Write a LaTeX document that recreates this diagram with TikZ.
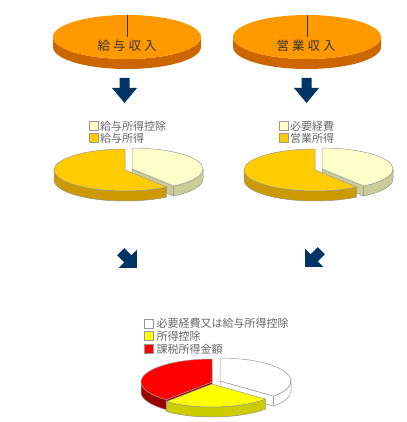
\documentclass[tikz,border=0pt]{standalone}
\usepackage{fontspec}
\newfontfamily\jpfont{Noto Sans CJK JP}
\definecolor{navyarr}{HTML}{003366}
\definecolor{orgtop}{HTML}{FF9900}
\definecolor{orgside}{HTML}{CC6600}
\definecolor{ylwtop}{HTML}{FFCC00}
\definecolor{ylwside}{HTML}{CC9900}
\definecolor{lytop}{HTML}{FFFFCC}
\definecolor{lyside}{HTML}{CCCC99}
\definecolor{redtop}{HTML}{FF0000}
\definecolor{redside}{HTML}{990000}
\definecolor{yeltop}{HTML}{FFFF00}
\definecolor{yelside}{HTML}{CCCC00}
\definecolor{pieline}{HTML}{999999}
\definecolor{lgtext}{HTML}{666666}
\definecolor{disktext}{HTML}{333333}
\def\pieRX{71}\def\pieRY{21}\def\pieH{10}
\newcommand\pieSec[2]{(0,0) -- ({\pieRX*cos(#1)},{\pieRY*sin(#1)}) arc[start angle=#1,end angle=#2,x radius=\pieRX,y radius=\pieRY] -- cycle}
\newcommand\pieBot[2]{(0,-\pieH) -- ({\pieRX*cos(#1)},{\pieRY*sin(#1)-\pieH}) arc[start angle=#1,end angle=#2,x radius=\pieRX,y radius=\pieRY] -- cycle}
\newcommand\pieSide[2]{({\pieRX*cos(#1)},{\pieRY*sin(#1)}) arc[start angle=#1,end angle=#2,x radius=\pieRX,y radius=\pieRY] -- ++(0,-\pieH) arc[start angle=#2,end angle=#1,x radius=\pieRX,y radius=\pieRY] -- cycle}
\newcommand\pieWall[1]{(0,0) -- ({\pieRX*cos(#1)},{\pieRY*sin(#1)}) -- ++(0,-\pieH) -- (0,-\pieH) -- cycle}
\tikzset{
  pieedge/.style={draw=pieline, line width=0.5pt},
  downarr/.pic={\fill[navyarr] (-5,0) -- (5,0) -- (5,10) -- (12.5,10) -- (0,25) -- (-12.5,10) -- (-5,10) -- cycle;},
  diagarr/.pic={\fill[navyarr] (-5,0) -- (5,0) -- (5,10) -- (13,10) -- (0,23) -- (-13,10) -- (-5,10) -- cycle;},
  lgsq/.style={draw=pieline, line width=0.5pt, minimum size=9pt, inner sep=0pt, outer sep=0pt},
  lgtx/.style={anchor=west, inner sep=0pt, text=lgtext, font=\jpfont\fontsize{11}{11}\selectfont},
  disktx/.style={inner sep=0pt, text=disktext, font=\jpfont\fontsize{12.5}{12.5}\selectfont}
}
\begin{document}
\begin{tikzpicture}[x=1pt, y=-1pt]
\useasboundingbox (0,0) rectangle (406,422);
\fill[white] (0,0) rectangle (406,422);

% top disks
\def\pieRX{74}\def\pieRY{22}\def\pieH{10}
\begin{scope}[shift={(127,37)}, y=1pt]
  \fill[orgside] \pieSide{180}{360};
  \fill[orgtop] (0,0) ellipse[x radius=\pieRX, y radius=\pieRY];
  \draw[disktext, line width=0.5pt] (0,0) -- (0,\pieRY);
\end{scope}
\begin{scope}[shift={(307,37)}, y=1pt]
  \fill[orgside] \pieSide{180}{360};
  \fill[orgtop] (0,0) ellipse[x radius=\pieRX, y radius=\pieRY];
  \draw[disktext, line width=0.5pt] (0,0) -- (0,\pieRY);
\end{scope}
\node[disktx] (d1) at (127,46) {給\kern3pt与\kern3pt収\kern3pt入};
\node[disktx] (d2) at (306,46) {営\kern3pt業\kern3pt収\kern3pt入};

% down arrows
\pic at (124.5,78) {downarr};
\pic at (306.5,78) {downarr};

% middle left pie
\def\pieRX{71}\def\pieRY{21}\def\pieH{10}
\begin{scope}[shift={(132,169)}, y=1pt]
  \fill[lyside] \pieBot{-54}{90};
  \filldraw[fill=lyside, pieedge] \pieWall{-54};
  \filldraw[fill=lyside, pieedge] \pieSide{-54}{0};
  \filldraw[fill=lytop, pieedge] \pieSec{-54}{90};
\end{scope}
\begin{scope}[shift={(125,170)}, y=1pt]
  \fill[ylwside] \pieBot{90}{306};
  \filldraw[fill=ylwside, pieedge] \pieSide{180}{306};
  \filldraw[fill=ylwtop, pieedge] \pieSec{90}{306};
\end{scope}
% middle right pie
\begin{scope}[shift={(322,169)}, y=1pt]
  \fill[lyside] \pieBot{-54}{90};
  \filldraw[fill=lyside, pieedge] \pieWall{-54};
  \filldraw[fill=lyside, pieedge] \pieSide{-54}{0};
  \filldraw[fill=lytop, pieedge] \pieSec{-54}{90};
\end{scope}
\begin{scope}[shift={(315,170)}, y=1pt]
  \fill[ylwside] \pieBot{90}{306};
  \filldraw[fill=ylwside, pieedge] \pieSide{180}{306};
  \filldraw[fill=ylwtop, pieedge] \pieSec{90}{306};
\end{scope}

% middle legends
\node[lgsq, fill=lytop] (la1) at (93.8,126) {};
\node[lgsq, fill=ylwtop] (la2) at (93.8,138) {};
\node[lgtx] (ta1) at (100,126) {給与所得控除};
\node[lgtx] (ta2) at (100,138) {給与所得};
\node[lgsq, fill=lytop] (lb1) at (283.8,126) {};
\node[lgsq, fill=ylwtop] (lb2) at (283.8,138) {};
\node[lgtx] (tb1) at (290,126) {必要経費};
\node[lgtx] (tb2) at (290,138) {営業所得};

% diagonal arrows
\pic[rotate=45] at (120.7,251.7) {diagarr};
\pic[rotate=-45] at (321.3,250.7) {diagarr};

% bottom legend
\node[lgsq, fill=white] (lc1) at (148.7,323.5) {};
\node[lgsq, fill=yeltop] (lc2) at (148.7,336) {};
\node[lgsq, fill=redtop] (lc3) at (148.7,349) {};
\node[lgtx] (tc1) at (156.5,323.5) {必要経費又は給与所得控除};
\node[lgtx] (tc2) at (156.5,336) {所得控除};
\node[lgtx] (tc3) at (156.5,349) {課税所得金額};

% bottom pie
\def\pieRX{71}\def\pieRY{23}\def\pieH{10}
\begin{scope}[shift={(220,381)}, y=1pt]
  \fill[white] \pieBot{-41}{90};
  \filldraw[fill=white, pieedge] \pieWall{-41};
  \filldraw[fill=white, pieedge] \pieSide{-41}{0};
  \filldraw[fill=white, pieedge] \pieSec{-41}{90};
\end{scope}
\begin{scope}[shift={(212,382)}, y=1pt]
  \fill[redside] \pieBot{90}{230};
  \filldraw[fill=redside, pieedge] \pieWall{230};
  \filldraw[fill=redside, pieedge] \pieSide{180}{230};
  \filldraw[fill=redtop, pieedge] \pieSec{90}{230};
\end{scope}
\begin{scope}[shift={(212,384)}, y=1pt]
  \fill[yelside] \pieBot{230}{319};
  \filldraw[fill=yelside, pieedge] \pieSide{230}{319};
  \filldraw[fill=yeltop, pieedge] \pieSec{230}{319};
\end{scope}
\end{tikzpicture}
\end{document}
